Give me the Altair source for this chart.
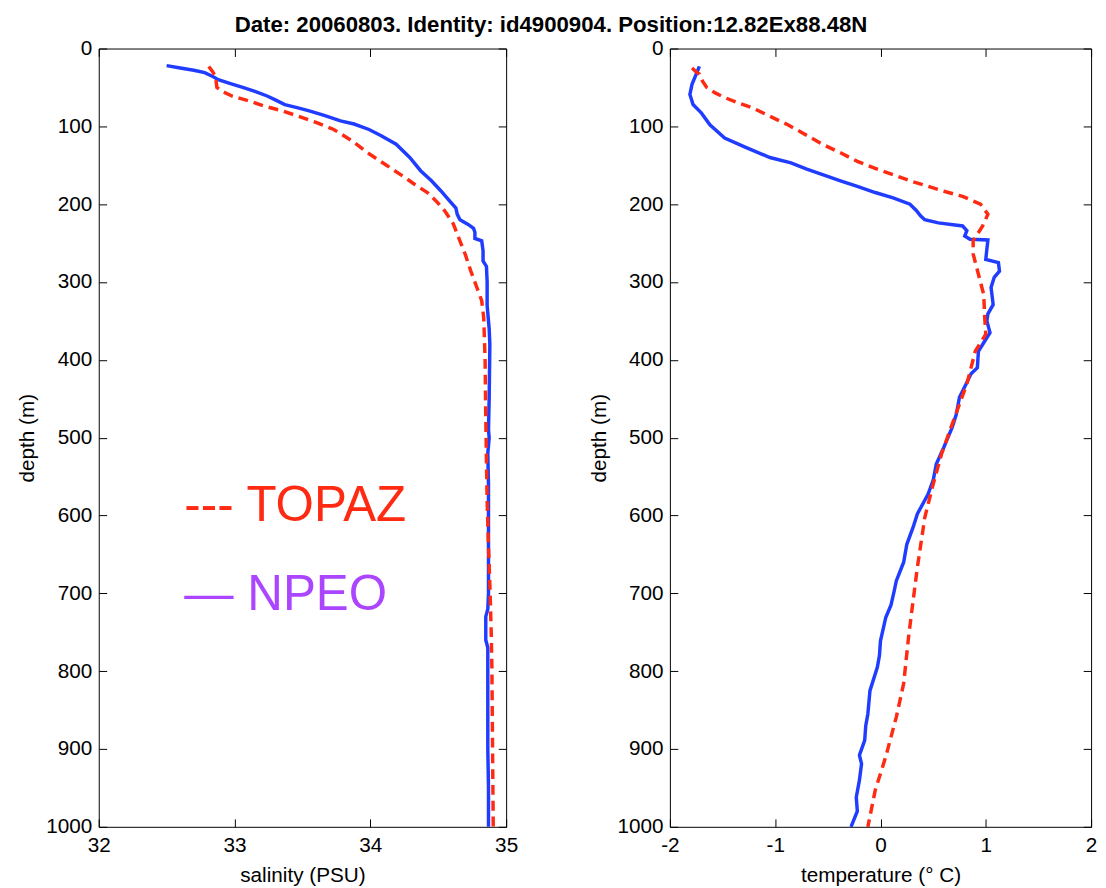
import altair as alt
import pandas as pd

FONT = "Liberation Sans"
TITLE = "Date: 20060803. Identity: id4900904. Position:12.82Ex88.48N"
RED = "#ff2a12"
BLUE = "#1f3cff"
PURPLE = "#ab45ff"

depth_ticks = [0, 100, 200, 300, 400, 500, 600, 700, 800, 900, 1000]
sal_ticks = [32, 33, 34, 35]
temp_ticks = [-2, -1, 0, 1, 2]

# NPEO salinity profile
npeo_sal_depth = [22, 25, 28, 31, 36, 40, 45, 50, 55, 61, 66, 72, 76, 80, 86, 93, 97, 104, 112, 123,
                  140, 157, 170, 183, 195, 205, 213, 220, 226, 231, 236, 244, 247, 260, 273, 280, 300,
                  330, 360, 380, 450, 490, 500, 520, 560, 600, 650, 700, 720, 730, 760, 770, 850, 900,
                  950, 1000]
npeo_sal = [32.50, 32.60, 32.70, 32.78, 32.84, 32.88, 32.97, 33.06, 33.15, 33.24, 33.30, 33.37, 33.46,
            33.55, 33.66, 33.78, 33.88, 33.99, 34.08, 34.19, 34.29, 34.37, 34.45, 34.52, 34.58, 34.63,
            34.64, 34.66, 34.72, 34.76, 34.77, 34.77, 34.82, 34.83, 34.83, 34.855, 34.86, 34.86, 34.875,
            34.88, 34.875, 34.87, 34.875, 34.865, 34.87, 34.87, 34.87, 34.87, 34.865, 34.85, 34.85,
            34.865, 34.865, 34.865, 34.87, 34.87]

# TOPAZ salinity profile
topaz_sal_depth = [23, 30, 36, 43, 50, 56, 61, 67, 74, 80, 87, 95, 104, 118, 134, 149, 164, 175, 185,
                   197, 209, 225, 243, 265, 286, 305, 324, 346, 400, 474, 530, 581, 640, 688, 750, 795,
                   900, 1000]
topaz_sal = [32.81, 32.84, 32.86, 32.865, 32.87, 32.92, 32.98, 33.10, 33.22, 33.35, 33.47, 33.60, 33.73,
             33.86, 33.98, 34.11, 34.24, 34.33, 34.42, 34.49, 34.55, 34.61, 34.65, 34.70, 34.74, 34.78,
             34.82, 34.835, 34.845, 34.85, 34.855, 34.86, 34.87, 34.88, 34.89, 34.895, 34.90, 34.905]

# NPEO temperature profile
npeo_temp_depth = [23, 33, 46, 59, 72, 83, 98, 115, 127, 140, 147, 155, 162, 170, 177, 185, 192, 200,
                   208, 215, 220, 224, 228, 234, 241, 245, 246, 258, 271, 275, 286, 294, 307, 329, 341,
                   350, 365, 378, 389, 410, 418, 429, 448, 470, 487, 500, 513, 534, 555, 573, 598, 615,
                   637, 660, 684, 697, 715, 731, 761, 780, 795, 825, 855, 870, 889, 908, 919, 940, 962,
                   980, 1000]
npeo_temp = [-1.72, -1.75, -1.79, -1.81, -1.78, -1.70, -1.62, -1.48, -1.28, -1.05, -0.85, -0.70, -0.55,
             -0.38, -0.22, -0.05, 0.12, 0.28, 0.34, 0.38, 0.42, 0.55, 0.78, 0.82, 0.80, 0.85, 1.02, 1.01,
             1.00, 1.12, 1.13, 1.08, 1.05, 1.07, 1.02, 1.01, 1.04, 0.98, 0.93, 0.92, 0.86, 0.82, 0.75,
             0.72, 0.68, 0.64, 0.60, 0.53, 0.50, 0.45, 0.35, 0.31, 0.25, 0.22, 0.15, 0.13, 0.10, 0.05,
             0.00, -0.01, -0.03, -0.10, -0.12, -0.14, -0.15, -0.20, -0.18, -0.20, -0.23, -0.22, -0.28]

# TOPAZ temperature profile
topaz_temp_depth = [25, 30, 33, 42, 50, 57, 63, 70, 76, 87, 98, 110, 123, 134, 145, 154, 162, 170, 177,
                    184, 190, 200, 213, 228, 247, 264, 290, 316, 346, 367, 389, 431, 483, 521, 560, 603,
                    667, 688, 752, 816, 859, 910, 953, 1000]
topaz_temp = [-1.79, -1.75, -1.72, -1.69, -1.65, -1.57, -1.48, -1.35, -1.22, -1.05, -0.88, -0.72, -0.55,
              -0.38, -0.22, -0.05, 0.12, 0.28, 0.45, 0.62, 0.78, 0.95, 1.02, 0.97, 0.88, 0.88, 0.93,
              0.98, 0.99, 1.00, 0.90, 0.82, 0.68, 0.58, 0.50, 0.42, 0.35, 0.33, 0.27, 0.22, 0.15, 0.05,
              -0.05, -0.12]

# in-plot legend texts (positioned in data units of the salinity panel)
legend_labels = ["--- TOPAZ", "\u2014 NPEO"]
legend_colors = [RED, PURPLE]
legend_sal = [32.63, 32.63]
legend_depth = [607, 721]

PLOT_H = 789
TICK_FS = 21
TITLE_FS = 21
LABEL_EXPR = "datum.value < 0 ? '-' + abs(datum.value) : '' + datum.value"


def panel(field, xdom, xticks, xtitle, npeo_d, npeo_v, topaz_d, topaz_v, width, legend=False):
    xs = alt.Scale(domain=xdom, nice=False, zero=False)
    ys = alt.Scale(domain=[0, 1000], reverse=True, nice=False, zero=False)
    common = dict(domain=False, grid=False, ticks=True, tickSize=8, offset=-8,
                  tickColor="black", tickWidth=1)
    x_bottom = alt.Axis(orient="bottom", values=xticks, title=xtitle, labelFontSize=TICK_FS,
                        titleFontSize=TITLE_FS, labelPadding=8, titlePadding=9,
                        labelFlush=False, labelOverlap=False, labelExpr=LABEL_EXPR, **common)
    y_left = alt.Axis(orient="left", values=depth_ticks, title="depth (m)", labelFontSize=TICK_FS,
                      titleFontSize=TITLE_FS, labelPadding=7, titlePadding=8,
                      labelOverlap=False, labelExpr=LABEL_EXPR, **common)
    x_top = alt.Axis(orient="top", values=xticks, labels=False, title="", **common)
    y_right = alt.Axis(orient="right", values=depth_ticks, labels=False, title="", **common)

    npeo_df = pd.DataFrame({"depth": npeo_d, field: npeo_v})
    topaz_df = pd.DataFrame({"depth": topaz_d, field: topaz_v})

    npeo = alt.Chart(npeo_df).mark_line(color=BLUE, strokeWidth=3.5).encode(
        x=alt.X(f"{field}:Q", scale=xs, axis=x_top),
        y=alt.Y("depth:Q", scale=ys, axis=y_right),
        order=alt.Order("depth:Q"),
    )
    topaz = alt.Chart(topaz_df).mark_line(color=RED, strokeWidth=3.5, strokeDash=[10, 6]).encode(
        x=alt.X(f"{field}:Q", scale=xs, axis=x_bottom),
        y=alt.Y("depth:Q", scale=ys, axis=y_left),
        order=alt.Order("depth:Q"),
    )
    layers = [npeo, topaz]
    if legend:
        leg_df = pd.DataFrame({field: legend_sal, "depth": legend_depth,
                               "label": legend_labels, "col": legend_colors})
        txt = alt.Chart(leg_df).mark_text(align="left", baseline="alphabetic", fontSize=50,
                                          font=FONT).encode(
            x=alt.X(f"{field}:Q", scale=xs, axis=None),
            y=alt.Y("depth:Q", scale=ys, axis=None),
            text="label:N",
            color=alt.Color("col:N", scale=None),
        )
        layers.append(txt)
    return alt.layer(*layers).resolve_axis(x="independent", y="independent").properties(
        width=width, height=PLOT_H)


left = panel("salinity", [32, 35], sal_ticks, "salinity (PSU)",
             npeo_sal_depth, npeo_sal, topaz_sal_depth, topaz_sal, 413, legend=True)
right = panel("temperature", [-2, 2], temp_ticks, "temperature (\u00b0 C)",
              npeo_temp_depth, npeo_temp, topaz_temp_depth, topaz_temp, 427)

chart = alt.hconcat(left, right, spacing=69).properties(
    title=alt.TitleParams(TITLE, font=FONT, fontSize=22.5, fontWeight="bold", color="black",
                          anchor="start", dx=221, offset=-8, dy=-9),
    padding={"left": 8, "top": 0, "right": 0, "bottom": 0},
).configure_view(stroke="black", strokeWidth=1).configure_axis(
    labelFont=FONT, titleFont=FONT, labelColor="black", titleColor="black",
    titleFontWeight="normal",
)

chart.save("out.html", embed_options={"renderer": "svg", "actions": False})
